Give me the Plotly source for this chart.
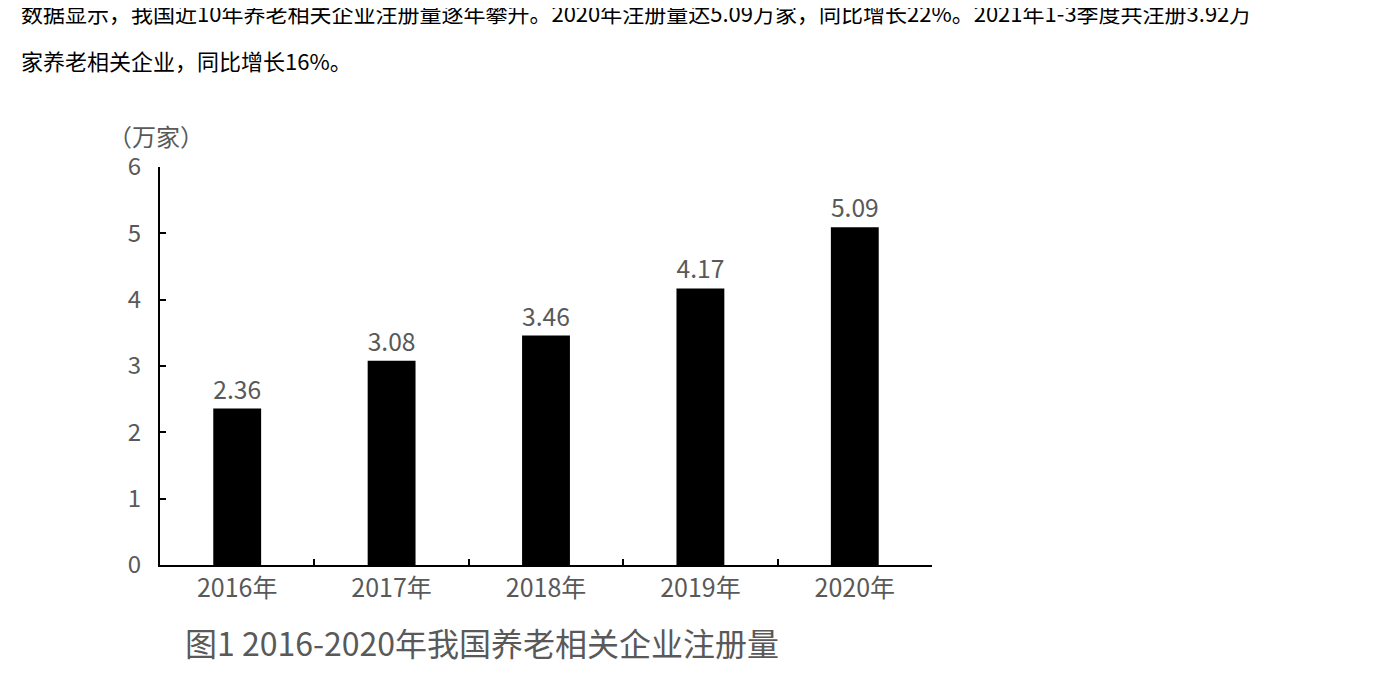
import plotly.graph_objects as go

years = ["2016年", "2017年", "2018年", "2019年", "2020年"]
values = [2.36, 3.08, 3.46, 4.17, 5.09]
labels = ["2.36", "3.08", "3.46", "4.17", "5.09"]
yticks = [0, 1, 2, 3, 4, 5, 6]

font = "Noto Sans CJK SC"
fig = go.Figure(go.Bar(
    x=years, y=values, text=labels, textposition="outside",
    marker=dict(color="black", line=dict(width=0)),
    textfont=dict(size=25, color="#595959", family=font), cliponaxis=False,
))
fig.update_layout(
    width=1384, height=673, paper_bgcolor="white", plot_bgcolor="white",
    margin=dict(l=152, r=460, t=159, b=116), bargap=0.69, showlegend=False,
    font=dict(family=font),
)
fig.update_yaxes(range=[0, 6], tickvals=yticks, showgrid=False, showline=True,
                 linecolor="black", linewidth=2, ticks="inside", ticklen=6,
                 tickcolor="black", tickwidth=2, zeroline=False,
                 tickfont=dict(size=24, color="#595959"), ticklabelstandoff=12)
fig.update_xaxes(showline=True, linecolor="black", linewidth=2, ticks="inside",
                 tickson="boundaries", ticklen=6, tickcolor="black", tickwidth=2,
                 tickfont=dict(size=25, color="#595959"), showgrid=False)
fig.add_annotation(xref="paper", yref="paper", x=-0.07, y=1.03, xanchor="left", yanchor="bottom",
                   text="（万家）", showarrow=False, font=dict(size=24, color="#595959"))
fig.add_annotation(xref="paper", yref="paper", x=0.03, y=-0.13, xanchor="left", yanchor="top",
                   text="图1 2016-2020年我国养老相关企业注册量", showarrow=False,
                   font=dict(size=32, color="#595959"))
fig.add_annotation(xref="paper", yref="paper", x=-0.182, y=1.39, xanchor="left", yanchor="middle",
                   align="left", showarrow=False, font=dict(size=22, color="black"),
                   text="数据显示，我国近10年养老相关企业注册量逐年攀升。2020年注册量达5.09万家，同比增长22%。2021年1-3季度共注册3.92万")
fig.add_annotation(xref="paper", yref="paper", x=-0.182, y=1.27, xanchor="left", yanchor="middle",
                   align="left", showarrow=False, font=dict(size=22, color="black"),
                   text="家养老相关企业，同比增长16%。")
fig.write_html("out.html")
